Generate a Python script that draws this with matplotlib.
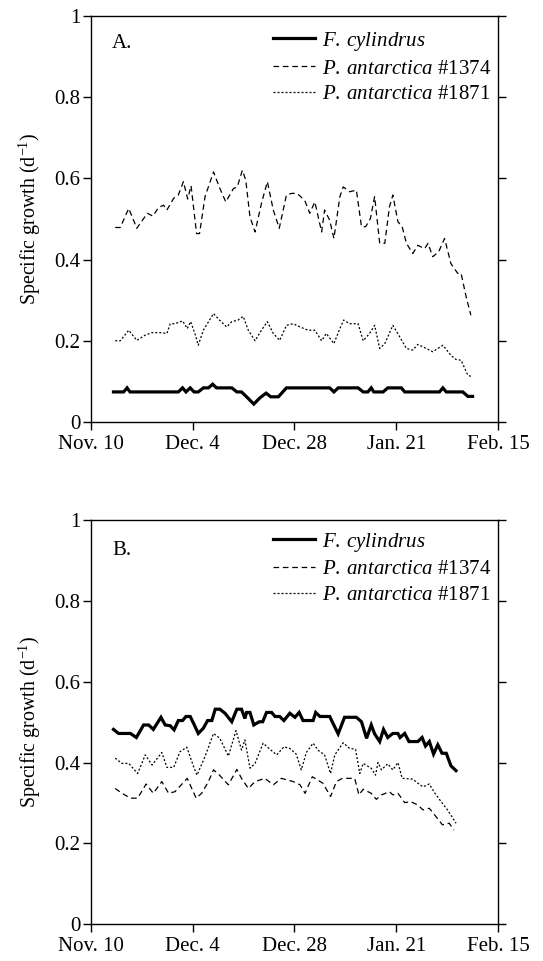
import matplotlib
matplotlib.use("Agg")
import matplotlib.pyplot as plt

# days after Nov. 10
tick_days = [0, 24, 48, 72, 96]
tick_labels = ["Nov. 10", "Dec. 4", "Dec. 28", "Jan. 21", "Feb. 15"]
names = [r"$\it{F.\:cylindrus}$", r"$\it{P.\:antarctica}$ #1374", r"$\it{P.\:antarctica}$ #1871"]

# ---------- panel A ----------
a_fc_day = [5.3, 7.7, 8.5, 9.2, 20.6, 21.6, 22.4, 23.4, 24.3, 25.3, 26.5, 27.7, 28.7, 29.6,
            33.2, 34.4, 35.5, 36.7, 38.4, 39.8, 41.3, 42.4, 44.2, 46.1, 56.3, 57.3, 58.3,
            63.0, 64.2, 65.3, 66.1, 66.7, 68.9, 70.0, 73.2, 74.0, 82.2, 83.0, 83.8, 87.7,
            88.9, 90.0]
a_fc = [0.074, 0.074, 0.084, 0.074, 0.074, 0.084, 0.074, 0.084, 0.074, 0.074, 0.084, 0.084,
        0.093, 0.084, 0.084, 0.074, 0.074, 0.062, 0.044, 0.059, 0.071, 0.062, 0.062, 0.084,
        0.084, 0.074, 0.084, 0.084, 0.074, 0.074, 0.084, 0.074, 0.074, 0.084, 0.084, 0.074,
        0.074, 0.084, 0.074, 0.074, 0.063, 0.063]

a_p1374_day = [5.7, 6.9, 8.9, 10.8, 12.0, 13.3, 14.6, 15.9, 17.1, 17.9, 19.5, 20.6, 21.8,
               22.8, 23.6, 24.9, 25.6, 26.9, 28.9, 30.4, 31.8, 33.6, 34.5, 35.7, 36.5, 37.5,
               38.7, 40.2, 41.6, 43.0, 44.4, 46.1, 47.3, 48.6, 50.4, 51.6, 52.8, 54.4, 55.1,
               56.3, 57.3, 58.7, 59.5, 61.0, 62.6, 63.8, 64.8, 65.9, 66.9, 68.1, 69.3, 70.4,
               71.2, 72.4, 73.4, 74.4, 75.9, 77.1, 78.7, 79.5, 80.6, 82.0, 83.4, 84.9, 86.5,
               87.3, 88.5, 89.6]
a_p1374 = [0.479, 0.479, 0.526, 0.477, 0.495, 0.514, 0.507, 0.528, 0.534, 0.522, 0.551, 0.559,
           0.592, 0.549, 0.582, 0.464, 0.464, 0.555, 0.616, 0.575, 0.542, 0.575, 0.579, 0.620,
           0.596, 0.505, 0.468, 0.538, 0.592, 0.522, 0.477, 0.559, 0.563, 0.563, 0.546, 0.514,
           0.542, 0.468, 0.522, 0.497, 0.452, 0.555, 0.579, 0.567, 0.571, 0.481, 0.481, 0.501,
           0.555, 0.440, 0.440, 0.530, 0.559, 0.493, 0.481, 0.440, 0.415, 0.435, 0.427, 0.440,
           0.407, 0.419, 0.452, 0.390, 0.366, 0.366, 0.308, 0.263]

a_p1871_day = [5.7, 6.9, 8.9, 10.8, 12.8, 14.4, 16.3, 17.9, 18.7, 19.8, 21.6, 22.7, 23.5,
               24.5, 25.3, 26.5, 28.9, 30.3, 32.0, 33.2, 34.7, 35.9, 37.1, 38.7, 40.2, 41.6,
               43.0, 44.5, 46.1, 47.7, 49.3, 51.2, 52.8, 54.4, 55.5, 57.3, 58.7, 59.6, 61.0,
               63.0, 64.2, 65.7, 66.9, 68.1, 69.3, 71.2, 72.8, 74.4, 75.9, 77.1, 79.1, 80.6,
               83.0, 84.9, 86.1, 87.3, 88.9, 90.0]
a_p1871 = [0.200, 0.200, 0.226, 0.201, 0.214, 0.220, 0.220, 0.218, 0.242, 0.242, 0.249, 0.230,
           0.247, 0.218, 0.189, 0.226, 0.267, 0.251, 0.234, 0.247, 0.251, 0.260, 0.226, 0.200,
           0.226, 0.247, 0.218, 0.201, 0.238, 0.242, 0.234, 0.226, 0.226, 0.200, 0.218, 0.193,
           0.230, 0.251, 0.242, 0.242, 0.200, 0.218, 0.238, 0.181, 0.193, 0.238, 0.210, 0.181,
           0.177, 0.191, 0.181, 0.173, 0.189, 0.164, 0.154, 0.152, 0.115, 0.111]

# ---------- panel B ----------
b_fc_day = [5.3, 6.5, 9.3, 10.7, 12.4, 13.6, 14.7, 16.5, 17.5, 18.7, 19.6, 20.6, 21.6, 22.4,
            23.4, 24.2, 25.3, 26.5, 27.5, 28.5, 29.3, 30.4, 31.6, 33.2, 34.4, 35.5, 36.3,
            36.7, 37.5, 38.4, 39.7, 40.5, 41.4, 42.6, 43.4, 44.5, 45.5, 46.9, 48.1, 49.1,
            50.0, 52.4, 53.0, 54.0, 56.3, 58.3, 59.8, 62.6, 63.8, 65.0, 66.1, 66.9, 68.1,
            69.0, 70.0, 71.2, 72.4, 72.9, 74.0, 75.0, 77.1, 78.1, 78.9, 79.8, 80.8, 81.8,
            82.8, 83.8, 84.9, 86.1]
b_fc = [0.482, 0.472, 0.472, 0.462, 0.493, 0.493, 0.482, 0.512, 0.493, 0.491, 0.481, 0.504,
        0.504, 0.514, 0.514, 0.497, 0.472, 0.485, 0.504, 0.504, 0.532, 0.532, 0.522, 0.501,
        0.532, 0.532, 0.509, 0.524, 0.524, 0.493, 0.501, 0.501, 0.524, 0.524, 0.514, 0.514,
        0.504, 0.522, 0.512, 0.524, 0.504, 0.504, 0.524, 0.514, 0.514, 0.471, 0.512, 0.512,
        0.501, 0.460, 0.493, 0.471, 0.452, 0.482, 0.462, 0.472, 0.472, 0.462, 0.472, 0.452,
        0.452, 0.462, 0.441, 0.452, 0.421, 0.444, 0.423, 0.423, 0.392, 0.380]

b_p1374_day = [5.7, 7.3, 9.3, 11.0, 13.0, 14.7, 16.7, 18.3, 19.8, 22.7, 24.8, 26.1, 27.7,
               28.9, 30.3, 32.4, 34.4, 35.5, 37.1, 38.7, 41.0, 43.0, 44.9, 47.7, 49.3, 50.5,
               52.2, 54.7, 56.5, 57.9, 59.3, 61.0, 62.2, 63.2, 64.2, 66.1, 67.3, 68.5, 70.4,
               71.2, 72.4, 74.0, 75.5, 77.1, 78.3, 79.8, 81.4, 82.9, 84.5, 85.6]
b_p1374 = [0.336, 0.324, 0.312, 0.312, 0.347, 0.324, 0.353, 0.324, 0.328, 0.361, 0.312, 0.324,
           0.353, 0.382, 0.369, 0.345, 0.383, 0.361, 0.336, 0.353, 0.361, 0.345, 0.361, 0.353,
           0.345, 0.324, 0.365, 0.349, 0.316, 0.353, 0.361, 0.361, 0.361, 0.320, 0.334, 0.324,
           0.309, 0.320, 0.328, 0.320, 0.324, 0.301, 0.303, 0.295, 0.283, 0.287, 0.266, 0.246,
           0.250, 0.233]

b_p1871_day = [5.7, 7.3, 8.9, 11.0, 12.8, 14.4, 16.7, 17.9, 19.5, 21.0, 22.6, 24.2, 25.0,
               26.9, 28.9, 30.4, 32.4, 34.2, 35.5, 36.3, 37.5, 38.7, 40.6, 42.2, 43.8, 45.5,
               46.9, 48.4, 49.6, 50.8, 52.4, 53.6, 55.1, 56.5, 57.5, 59.5, 61.0, 62.4, 63.4,
               64.2, 66.1, 67.1, 67.7, 68.5, 70.0, 71.2, 72.4, 73.4, 75.9, 77.1, 78.3, 79.8,
               81.0, 82.6, 83.8, 84.9, 86.1]
b_p1871 = [0.411, 0.398, 0.398, 0.373, 0.419, 0.394, 0.425, 0.388, 0.388, 0.427, 0.438, 0.390,
           0.369, 0.415, 0.472, 0.460, 0.416, 0.479, 0.431, 0.456, 0.386, 0.398, 0.448, 0.433,
           0.419, 0.439, 0.435, 0.421, 0.382, 0.425, 0.448, 0.430, 0.419, 0.373, 0.419, 0.449,
           0.435, 0.433, 0.373, 0.398, 0.386, 0.369, 0.400, 0.382, 0.397, 0.382, 0.400, 0.361,
           0.359, 0.349, 0.340, 0.347, 0.326, 0.303, 0.287, 0.270, 0.250]

plt.rcParams.update({
    "font.family": "Liberation Serif",
    "mathtext.fontset": "custom",
    "mathtext.rm": "Liberation Serif",
    "mathtext.it": "Liberation Serif:italic",
    "font.size": 15,
})

fig = plt.figure(figsize=(5.43, 9.61), dpi=100)
ax_a = fig.add_axes([0.1676, 0.5609, 0.7495, 0.4225])
ax_b = fig.add_axes([0.1676, 0.0382, 0.7495, 0.4207])

panels = [
    (ax_a, "A.", 0.921, 0.966, [(a_fc_day, a_fc), (a_p1374_day, a_p1374), (a_p1871_day, a_p1871)]),
    (ax_b, "B.", 0.913, 0.974, [(b_fc_day, b_fc), (b_p1374_day, b_p1374), (b_p1871_day, b_p1871)]),
]
styles = [
    dict(lw=2.3, ls="-"),
    dict(lw=0.9, ls=(0, (4.5, 3))),
    dict(lw=0.9, ls=(0, (1.6, 1.6))),
]

for ax, tag, tag_y, leg_y, series in panels:
    for (x, y), st, nm in zip(series, styles, names):
        ax.plot(x, y, color="black", label=nm, solid_joinstyle="miter", **st)
    ax.set_xlim(0, 96)
    ax.set_ylim(0, 1)
    ax.set_xticks(tick_days)
    ax.set_xticklabels(tick_labels)
    ax.set_yticks([0, 0.2, 0.4, 0.6, 0.8, 1])
    ax.set_yticklabels(["0", "0.2", "0.4", "0.6", "0.8", "1"])
    ax.tick_params(direction="out", length=5.5, width=1, pad=2, right=True, top=False)
    ax.tick_params(axis="x", pad=4)
    for s in ax.spines.values():
        s.set_linewidth(1)
    ax.set_ylabel("Specific growth (d$^{-1}$)", labelpad=8, fontsize=14.4)
    ax.text(0.052, tag_y, tag, transform=ax.transAxes, va="baseline", ha="left")
    ax.legend(loc="upper left", bbox_to_anchor=(0.447, leg_y), frameon=False,
              handlelength=2.0, handletextpad=0.35, labelspacing=0.3, borderaxespad=0,
              borderpad=0)

fig.savefig("out.png", dpi=100)
